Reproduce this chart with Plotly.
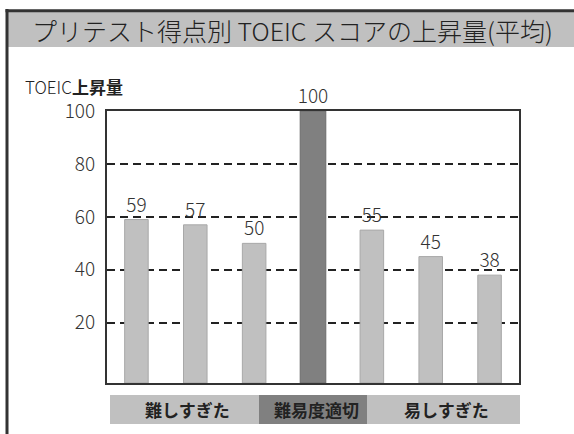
import plotly.graph_objects as go

# ---- data ----
bar_ids = ["A1", "A2", "A3", "B1", "C1", "C2", "C3"]
scores = [59, 57, 50, 100, 55, 45, 38]
bar_group = ["難しすぎた", "難しすぎた", "難しすぎた", "難易度適切", "易しすぎた", "易しすぎた", "易しすぎた"]
groups = ["難しすぎた", "難易度適切", "易しすぎた"]
y_ticks = [20, 40, 60, 80, 100]
title_text = "プリテスト得点別 TOEIC スコアの上昇量(平均)"
y_title = "TOEIC<b>上昇量</b>"

# ---- style ----
W, H = 574, 434
L, R, T, B = 107, 55, 111, 51
PW, PH = W - L - R, H - T - B
YMIN, YMAX = -2.75, 100
LIGHT, LIGHT_EDGE = "#c0c0c0", "#a8a8a8"
DARK, DARK_EDGE = "#808080", "#6c6c6c"
TXT = "#333333"
FONT = "Noto Sans CJK JP, Roboto, sans-serif"

def px(x):
    return (x - L) / PW

def py(y):
    return (H - B - y) / PH

highlight = [g == "難易度適切" for g in bar_group]
colors = [DARK if h else LIGHT for h in highlight]
edges = [DARK_EDGE if h else LIGHT_EDGE for h in highlight]
widths = [0.435 if h else 0.40 for h in highlight]

fig = go.Figure(go.Bar(
    x=bar_ids,
    y=[v - YMIN for v in scores],
    base=YMIN,
    width=widths,
    marker=dict(color=colors, line=dict(color=edges, width=1)),
    text=[str(v) for v in scores],
    textposition="outside",
    constraintext="none",
    textfont=dict(size=19, color=TXT, family=FONT, weight=300),
    cliponaxis=False,
    hovertemplate="%{text}<extra></extra>",
))

shapes = []
# title band
shapes.append(dict(type="rect", xref="paper", yref="paper",
                   x0=px(8), x1=px(W + 2), y0=py(47), y1=py(12),
                   fillcolor="#c0c0c0", line=dict(width=0), layer="below"))
# outer frame lines
shapes.append(dict(type="line", xref="paper", yref="paper",
                   x0=px(7), x1=px(7), y0=py(H + 2), y1=py(9),
                   line=dict(color="#333333", width=3)))
shapes.append(dict(type="line", xref="paper", yref="paper",
                   x0=px(5.5), x1=px(W + 2), y0=py(10.8), y1=py(10.8),
                   line=dict(color="#333333", width=3)))
# category band
band_edges = [110, 259, 367, 520]
band_cols = [LIGHT, DARK, LIGHT]
annotations = []
for i, g in enumerate(groups):
    shapes.append(dict(type="rect", xref="paper", yref="paper",
                       x0=px(band_edges[i]), x1=px(band_edges[i + 1]),
                       y0=py(424), y1=py(395),
                       fillcolor=band_cols[i], line=dict(width=0), layer="below"))
    annotations.append(dict(xref="paper", yref="paper",
                            x=px((band_edges[i] + band_edges[i + 1]) / 2 + 3), y=py(409.5),
                            text="<b>" + g + "</b>", showarrow=False,
                            font=dict(size=17, color="#222222", family=FONT),
                            xanchor="center", yanchor="middle"))

annotations.append(dict(xref="paper", yref="paper", x=px(292), y=py(30),
                        text=title_text, showarrow=False,
                        font=dict(size=25, color="#222222", family=FONT, weight=300),
                        xanchor="center", yanchor="middle"))
annotations.append(dict(xref="paper", yref="paper", x=px(23), y=py(86),
                        text=y_title, showarrow=False,
                        font=dict(size=17, color="#222222", family=FONT, weight=300),
                        xanchor="left", yanchor="middle"))

fig.update_layout(
    width=W, height=H,
    margin=dict(l=L, r=R, t=T, b=B, pad=0),
    paper_bgcolor="white", plot_bgcolor="white",
    showlegend=False,
    shapes=shapes, annotations=annotations,
    bargap=0.6,
    font=dict(family=FONT, color=TXT),
    xaxis=dict(showticklabels=False, ticks="", showgrid=False,
               showline=True, linecolor="#333333", linewidth=2, mirror=True,
               fixedrange=True),
    yaxis=dict(range=[YMIN, YMAX], tickvals=y_ticks, ticks="",
               tickfont=dict(size=19, color=TXT, family=FONT, weight=300),
               ticklabelstandoff=6,
               showgrid=True, gridcolor="#222222", gridwidth=2, griddash="8px,5px",
               zeroline=False,
               showline=True, linecolor="#333333", linewidth=2, mirror=True,
               fixedrange=True),
)

fig.write_html("out.html", config={"displayModeBar": False},
               post_script="document.body.style.margin='0';document.body.style.overflow='hidden';")
